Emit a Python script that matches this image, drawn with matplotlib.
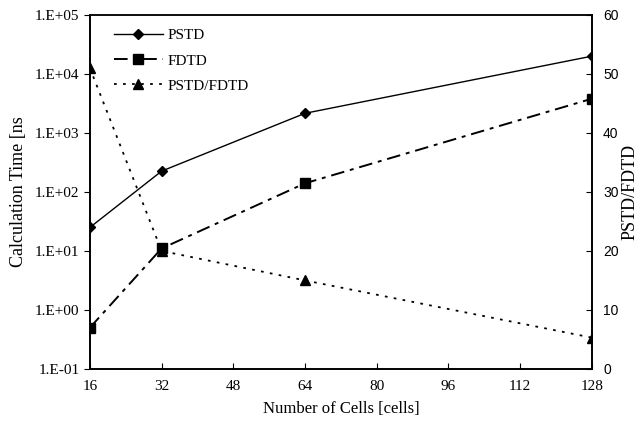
import math
import matplotlib
matplotlib.use("Agg")
import matplotlib.pyplot as plt
from matplotlib.ticker import FixedLocator, FuncFormatter

plt.rcParams["font.family"] = ["Liberation Serif", "DejaVu Serif"]

cells = [16, 32, 64, 128]
pstd = [25, 225, 2150, 20000]
fdtd = [0.5, 11, 140, 3800]
ratio = [51, 20, 15, 5.3]

x_ticks = [16, 32, 48, 64, 80, 96, 112, 128]
y_ticks = [1e-1, 1e0, 1e1, 1e2, 1e3, 1e4, 1e5]
y2_ticks = [0, 10, 20, 30, 40, 50, 60]

fig = plt.figure(figsize=(6.42, 4.26), dpi=100)
ax = fig.add_axes([0.140, 0.134, 0.782, 0.831])
ax2 = ax.twinx()

l1, = ax.plot(cells, pstd, color="black", lw=1.0, marker="D", ms=5, label="PSTD")
l2, = ax.plot(cells, fdtd, color="black", lw=1.4, dashes=(7, 3, 2, 3),
              marker="s", ms=6.5, label="FDTD")
l3, = ax2.plot(cells, ratio, color="black", lw=1.3, dashes=(1.5, 3.5),
               marker="^", ms=6.5, label="PSTD/FDTD")

ax.set_yscale("log")
ax.set_xlim(16, 128)
ax.set_ylim(1e-1, 1e5)
ax2.set_ylim(0, 60)

ax.xaxis.set_major_locator(FixedLocator(x_ticks))
ax.yaxis.set_major_locator(FixedLocator(y_ticks))
ax.yaxis.set_minor_locator(FixedLocator([]))
ax.yaxis.set_major_formatter(FuncFormatter(lambda v, p: "1.E%+03d" % round(math.log10(v))))
ax2.yaxis.set_major_locator(FixedLocator(y2_ticks))

ax.tick_params(axis="x", direction="in", length=4, labelsize=11, pad=8)
ax.tick_params(axis="y", direction="out", length=4, labelsize=11)
ax2.tick_params(axis="y", direction="in", length=4, labelsize=10, pad=8)
for lab in ax2.get_yticklabels():
    lab.set_family(["Liberation Sans Narrow", "Liberation Sans", "DejaVu Sans"])

for a in (ax, ax2):
    for s in a.spines.values():
        s.set_linewidth(1.2)
ax.spines["top"].set_color("#555555")

ax.set_xlabel("Number of Cells [cells]", fontsize=12, labelpad=6)
ax.set_ylabel("Calculation Time [ns", fontsize=13, labelpad=6)
ax2.set_ylabel("PSTD/FDTD", fontsize=13, labelpad=2)

ax.legend(handles=[l1, l2, l3], loc="upper left", frameon=False, fontsize=11,
          handlelength=3.2, handletextpad=0.3, labelspacing=0.75,
          borderaxespad=0.5, bbox_to_anchor=(0.02, 1.0))

fig.savefig("out.png", dpi=100)
